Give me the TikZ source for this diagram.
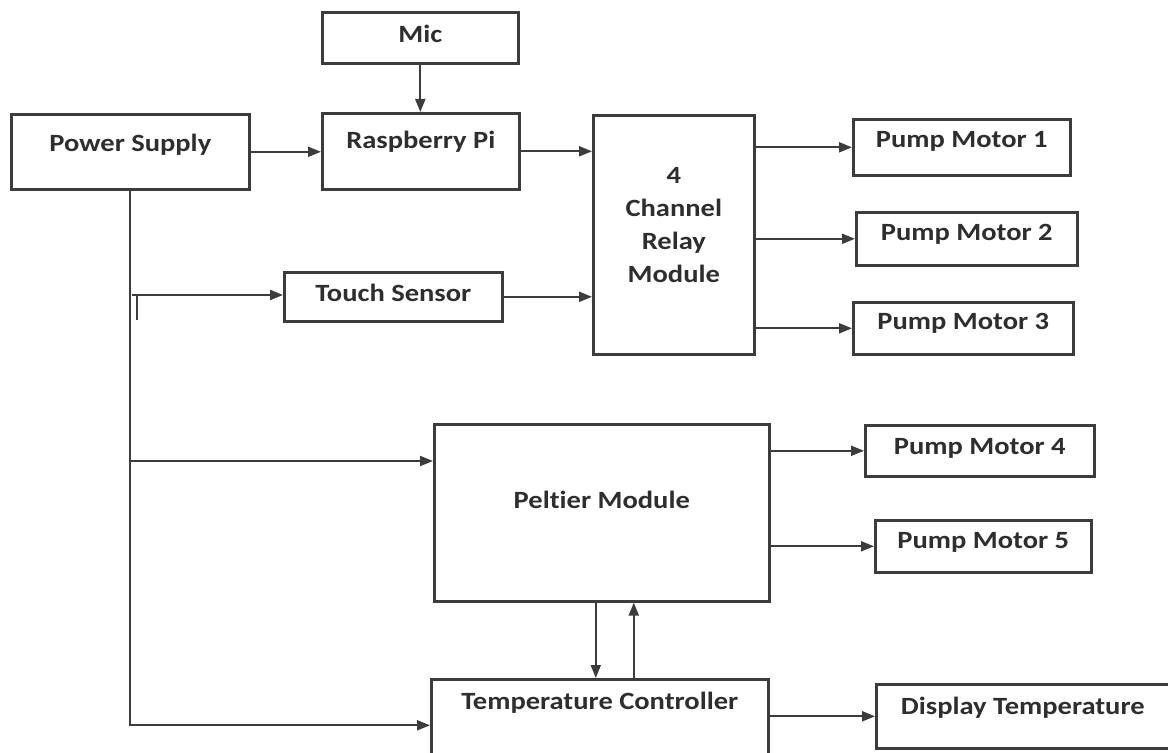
\documentclass[tikz,border=0pt]{standalone}
\usepackage{fontspec}
\setmainfont{Carlito}[FakeStretch=1.15, Ligatures=CommonOff]
\usepackage{tikz}
\usetikzlibrary{arrows.meta}
\definecolor{myline}{HTML}{3C3C3C}
\definecolor{mytext}{HTML}{2E2E2E}

\begin{document}
\begin{tikzpicture}[x=0.5pt, y=-0.5pt, >={Triangle[length=6.5pt, width=5pt]},
    font=\fontsize{12.4}{16.5}\selectfont\bfseries,
    blk/.style={draw=myline, line width=1.3pt, inner sep=0pt, anchor=north west, text=mytext},
    con/.style={->, draw=myline, line width=1pt}]
    \useasboundingbox (0,0) rectangle (1168,753);
    % blocks, placed at their top left corners
    \node[blk, minimum width=98pt, text height=15pt, text depth=10.5pt] (mic) at (321,11) {Mic};
    \node[blk, minimum width=119pt, text height=18.5pt, text depth=19pt] (ps) at (10,113) {Power Supply};
    \node[blk, minimum width=98.5pt, text height=17.5pt, text depth=20.5pt] (rpi) at (321,112) {Raspberry Pi};
    \node[blk, minimum width=109pt, text height=14.5pt, text depth=10pt] (touch) at (283,271) {Touch Sensor};
    \node[blk, minimum width=80.5pt, minimum height=119.5pt, text depth=10pt, align=center] (relay) at (592,114) {4\\Channel\\Relay\\Module};
    \node[blk, minimum width=108.5pt, text height=14pt, text depth=14pt] (pm1) at (852,118) {Pump Motor 1};
    \node[blk, minimum width=110.5pt, text height=14pt, text depth=12.5pt] (pm2) at (855,211) {Pump Motor 2};
    \node[blk, minimum width=110pt, text height=13.5pt, text depth=12.5pt] (pm3) at (852,301) {Pump Motor 3};
    \node[blk, minimum width=167.5pt, text height=42pt, text depth=46.5pt] (pel) at (433,423) {Peltier Module};
    \node[blk, minimum width=114.5pt, text height=14.5pt, text depth=11pt] (pm4) at (864,424) {Pump Motor 4};
    \node[blk, minimum width=108pt, text height=14pt, text depth=12pt] (pm5) at (874,519) {Pump Motor 5};
    \node[blk, minimum width=168.5pt, text height=15pt, text depth=31pt] (tc) at (430,678) {Temperature Controller};
    \node[blk, minimum width=146.5pt, text height=15pt, text depth=17pt] (disp) at (875,683) {Display Temperature};
    % power rail
    \coordinate (tap1) at (132,295);
    \coordinate (tap2) at (129,461);
    \draw[con] (ps.south) |- (tc.west);
    \draw[con] (tap1) -- (tap1 -| touch.west);
    \draw[myline, line width=1pt] (137,295) -- (137,320);
    \draw[con] (tap2) -- (tap2 -| pel.west);
    \draw[con] (ps.east) -- (ps.east -| rpi.west);
    % signals
    \draw[con] (mic.south) -- (mic.south |- rpi.north);
    \draw[con] (rpi.east) -- (rpi.east -| relay.west);
    \draw[con] (touch.east) -- (touch.east -| relay.west);
    \draw[con] (relay.east |- pm1.west) -- (pm1.west);
    \draw[con] (relay.east |- pm2.west) -- (pm2.west);
    \draw[con] (relay.east |- pm3.west) -- (pm3.west);
    \draw[con] (pel.east |- pm4.west) -- (pm4.west);
    \draw[con] (pel.east |- pm5.west) -- (pm5.west);
    \draw[con] ([xshift=-3pt]pel.south) -- ([xshift=-3pt]pel.south |- tc.north);
    \draw[con] ([xshift=16pt]pel.south |- tc.north) -- ([xshift=16pt]pel.south);
    \draw[con] (tc.east |- disp.west) -- (disp.west);
\end{tikzpicture}
\end{document}
